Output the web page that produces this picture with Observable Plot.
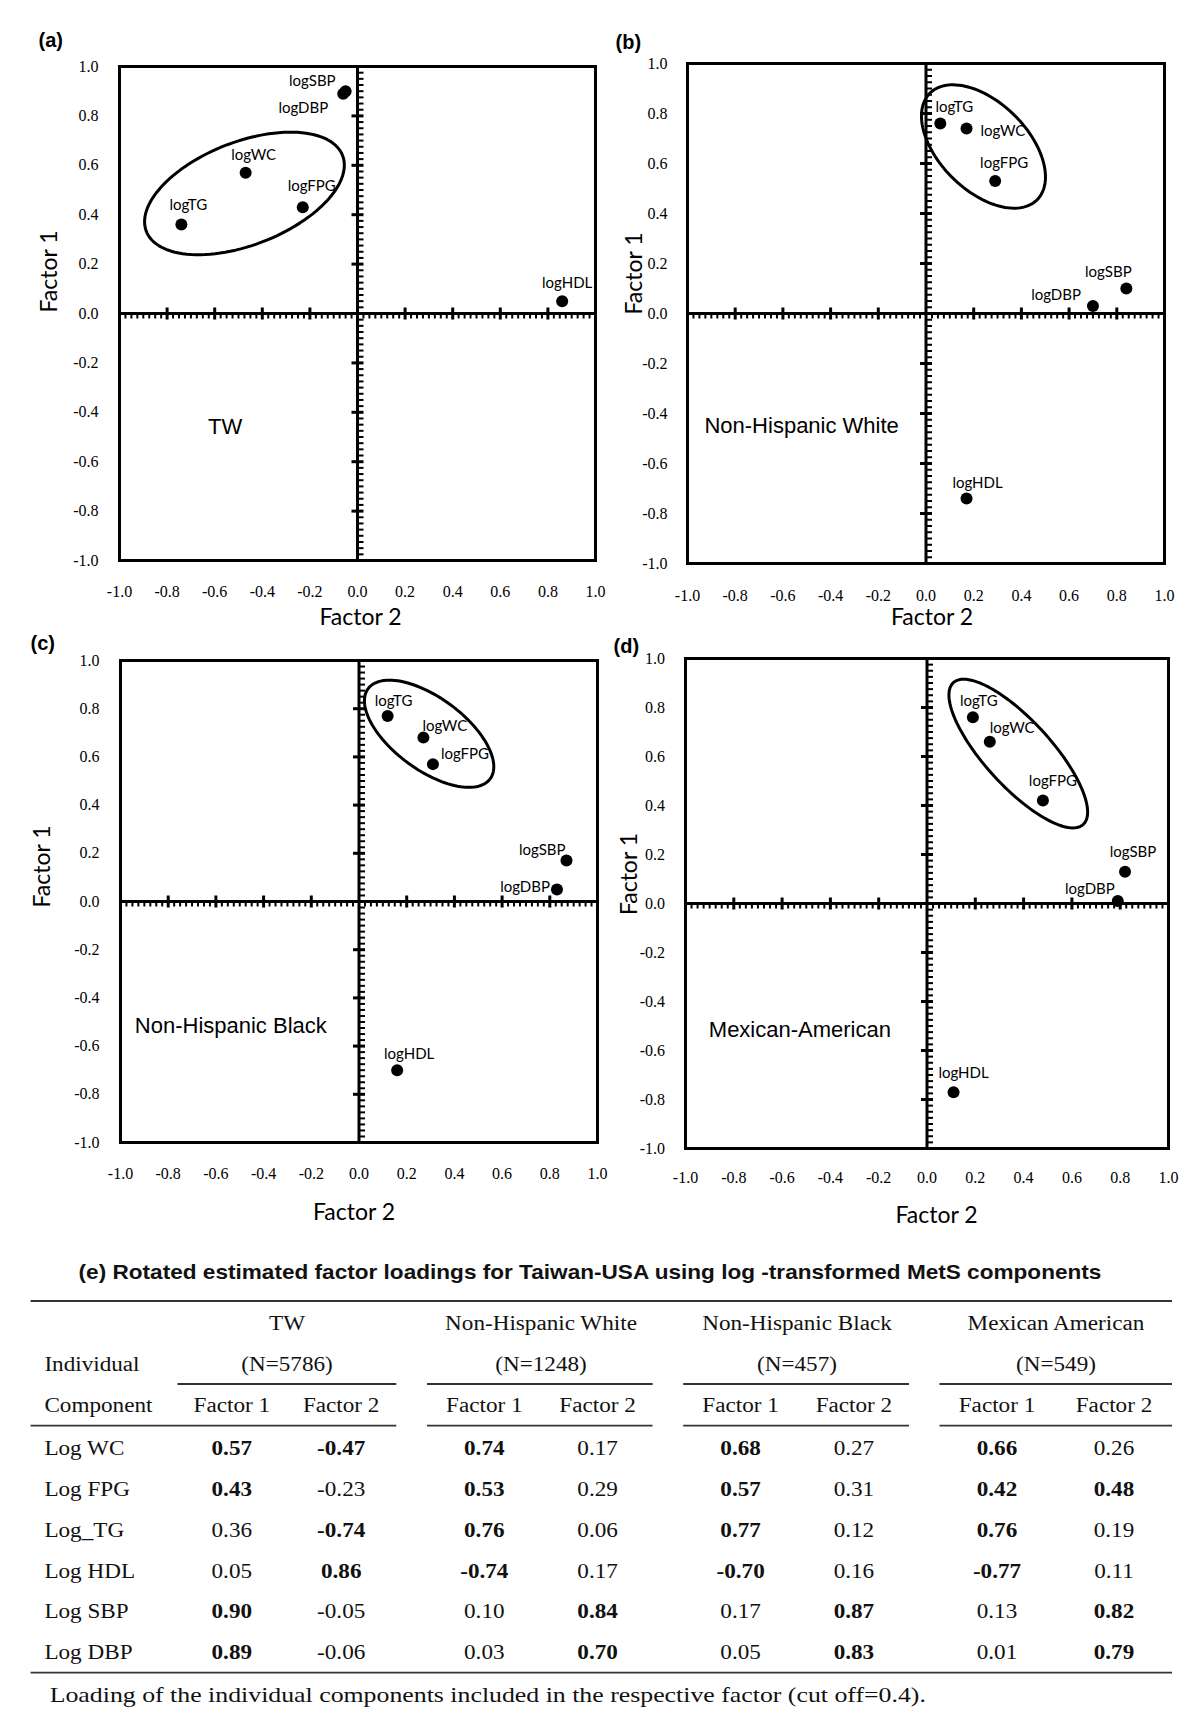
<!DOCTYPE html>
<html><head><meta charset="utf-8">
<script src="https://cdn.jsdelivr.net/npm/d3@7"></script>
<script src="https://cdn.jsdelivr.net/npm/@observablehq/plot@0.6"></script>
<style>
body{margin:0;background:#fff;}
#root{position:relative;width:1200px;height:1725px;background:#fff;overflow:hidden;}
#root svg{position:absolute;}
</style></head><body><div id="root"></div>
<script>
// ---------------- DATA ----------------
const components = ["logWC","logFPG","logTG","logHDL","logSBP","logDBP"];
const tableComponents = ["Log WC","Log FPG","Log_TG","Log HDL","Log SBP","Log DBP"];
const groups = ["TW","Non-Hispanic White","Non-Hispanic Black","Mexican American"];
const panelGroupNames = ["TW","Non-Hispanic White","Non-Hispanic Black","Mexican-American"];
const groupN = ["(N=5786)","(N=1248)","(N=457)","(N=549)"];
const panelTags = ["(a)","(b)","(c)","(d)"];
// rotated factor loadings (Factor 1, Factor 2) per group, in component order
const twF1  = [0.57, 0.43, 0.36, 0.05, 0.90, 0.89];
const twF2  = [-0.47,-0.23,-0.74, 0.86,-0.05,-0.06];
const nhwF1 = [0.74, 0.53, 0.76,-0.74, 0.10, 0.03];
const nhwF2 = [0.17, 0.29, 0.06, 0.17, 0.84, 0.70];
const nhbF1 = [0.68, 0.57, 0.77,-0.70, 0.17, 0.05];
const nhbF2 = [0.27, 0.31, 0.12, 0.16, 0.87, 0.83];
const maF1  = [0.66, 0.42, 0.76,-0.77, 0.13, 0.01];
const maF2  = [0.26, 0.48, 0.19, 0.11, 0.82, 0.79];
const axisTicks = [-1.0,-0.8,-0.6,-0.4,-0.2,0.0,0.2,0.4,0.6,0.8,1.0];
const cutoff = 0.4;
const title = "(e) Rotated estimated factor loadings for Taiwan-USA using log -transformed MetS components";
const footnote = "Loading of the individual components included in the respective factor (cut off=0.4).";
const xTitle = "Factor 2", yTitle = "Factor 1";

// ---------------- LAYOUT / STYLE ----------------
const panelLayout = [
  {left:0, top:0, width:600, height:640, ml:119, mr:5, mt:66, mb:80,
   xTickDy:31, yTickDx:-21, xlab:[3,57], ylab:[-70,-1], tag:[-81,-26],
   group:{x:-0.556, y:-0.46, anchor:"middle"},
   ellipse:{cx:-0.475, cy:0.486, rx:0.44, ry:0.21, rot:20},
   labels:{logWC:[8,-18,"middle"], logFPG:[9,-21,"middle"], logTG:[7,-19,"middle"],
           logHDL:[5,-18,"middle"], logSBP:[-10,-10,"end"], logDBP:[-15,15,"end"]}},
  {left:600, top:0, width:600, height:640, ml:87, mr:36, mt:63, mb:77,
   xTickDy:32, yTickDx:-20, xlab:[6,54], ylab:[-53,1], tag:[-72,-21],
   group:{x:-0.929, y:-0.45, anchor:"start"},
   ellipse:{cx:0.241, cy:0.668, rx:0.31, ry:0.18, rot:-42},
   labels:{logWC:[14,3,"start"], logFPG:[9,-18,"middle"], logTG:[14,-16,"middle"],
           logHDL:[11,-15,"middle"], logSBP:[-18,-16,"middle"], logDBP:[-12,-11,"end"]}},
  {left:0, top:620, width:600, height:620, ml:120, mr:3, mt:40, mb:98,
   xTickDy:31, yTickDx:-21, xlab:[-5,70], ylab:[-78,6], tag:[-90,-17],
   group:{x:-0.94, y:-0.516, anchor:"start"},
   ellipse:{cx:0.294, cy:0.696, rx:0.317, ry:0.15, rot:-36},
   labels:{logWC:[-1,-11,"start"], logFPG:[8,-10,"start"], logTG:[6,-15,"middle"],
           logHDL:[12,-16,"middle"], logSBP:[-1,-10,"end"], logDBP:[-7,-2,"end"]}},
  {left:600, top:620, width:600, height:620, ml:85, mr:32, mt:38, mb:92,
   xTickDy:29, yTickDx:-20.5, xlab:[9.5,67], ylab:[-56,11.6], tag:[-72,-12],
   group:{x:-0.9035, y:-0.515, anchor:"start"},
   ellipse:{cx:0.378, cy:0.612, rx:0.395, ry:0.136, rot:-47},
   labels:{logWC:[0,-14,"start"], logFPG:[10,-19,"middle"], logTG:[6,-16,"middle"],
           logHDL:[10,-19,"middle"], logSBP:[8,-19,"middle"], logDBP:[-3,-12,"end"]}}
];
const F1s = [twF1, nhwF1, nhbF1, maF1];
const F2s = [twF2, nhwF2, nhbF2, maF2];

const seg = (x0,y0,x1,y1) => ({draw(ctx){ctx.moveTo(x0,y0); ctx.lineTo(x1,y1);}});
const majorOnX = seg(0,-6,0,6), minorOnX = seg(0,0,0,5);
const majorOnY = seg(-6,0,6,0), minorOnY = seg(0,0,6,0);
const majorVals = axisTicks.filter(v => v !== 0 && Math.abs(v) < 1);
const minorVals = d3.range(-39, 40).map(i => i * 0.025)
  .filter(v => Math.abs(Math.round(v * 1000) % 200) !== 0);
const fmt1 = d => (Math.round(d * 10) / 10).toFixed(1);

function ellipsePoints(e) {
  const th = e.rot * Math.PI / 180;
  return d3.range(0, 361, 3).map(a => {
    const t = a * Math.PI / 180;
    return {x: e.cx + e.rx*Math.cos(t)*Math.cos(th) - e.ry*Math.sin(t)*Math.sin(th),
            y: e.cy + e.rx*Math.cos(t)*Math.sin(th) + e.ry*Math.sin(t)*Math.cos(th)};
  });
}

const root = document.getElementById("root");
const LABEL_FONT = "Lato, Carlito, 'Open Sans', sans-serif";
const SERIF = "'Liberation Serif', 'Times New Roman', serif";
const SANS = "'Liberation Sans', Arial, sans-serif";

panelLayout.forEach((L, i) => {
  const pts = components.map((c, j) => ({name: c, f1: F1s[i][j], f2: F2s[i][j]}));
  const labelMarks = pts.map(p => {
    const [dx, dy, anchor] = L.labels[p.name];
    return Plot.text([p], {x: "f2", y: "f1", text: "name", dx, dy, textAnchor: anchor,
      lineAnchor: "middle", fontFamily: LABEL_FONT, fontSize: 15, fill: "black"});
  });
  const chart = Plot.plot({
    width: L.width, height: L.height,
    marginLeft: L.ml, marginRight: L.mr, marginTop: L.mt, marginBottom: L.mb,
    x: {domain: [-1, 1], axis: null},
    y: {domain: [-1, 1], axis: null},
    style: {background: "transparent", overflow: "visible"},
    marks: [
      Plot.ruleX([0], {stroke: "black", strokeWidth: 3}),
      Plot.ruleY([0], {stroke: "black", strokeWidth: 3}),
      Plot.dot(minorVals, {x: d => d, y: 0, symbol: minorOnX, stroke: "black", strokeWidth: 2, fill: "none"}),
      Plot.dot(minorVals, {x: 0, y: d => d, symbol: minorOnY, stroke: "black", strokeWidth: 2, fill: "none"}),
      Plot.dot(majorVals, {x: d => d, y: 0, symbol: majorOnX, stroke: "black", strokeWidth: 3, fill: "none"}),
      Plot.dot(majorVals, {x: 0, y: d => d, symbol: majorOnY, stroke: "black", strokeWidth: 3, fill: "none"}),
      Plot.frame({stroke: "black", strokeWidth: 3}),
      Plot.line(ellipsePoints(L.ellipse), {x: "x", y: "y", stroke: "black", strokeWidth: 3, curve: "linear-closed"}),
      Plot.dot(pts, {x: "f2", y: "f1", r: 6, fill: "black"}),
      ...labelMarks,
      Plot.text(axisTicks, {x: d => d, frameAnchor: "bottom", dy: L.xTickDy, text: fmt1,
        lineAnchor: "middle", fontFamily: SERIF, fontSize: 16, fill: "black"}),
      Plot.text(axisTicks, {y: d => d, frameAnchor: "left", dx: L.yTickDx, text: fmt1,
        textAnchor: "end", lineAnchor: "middle", fontFamily: SERIF, fontSize: 16, fill: "black"}),
      Plot.text([xTitle], {frameAnchor: "bottom", dx: L.xlab[0], dy: L.xlab[1], text: d => d,
        lineAnchor: "middle", fontFamily: LABEL_FONT, fontSize: 23, fill: "black"}),
      Plot.text([yTitle], {frameAnchor: "left", dx: L.ylab[0], dy: L.ylab[1], text: d => d, rotate: -90,
        lineAnchor: "middle", fontFamily: LABEL_FONT, fontSize: 23, fill: "black"}),
      Plot.text([panelTags[i]], {frameAnchor: "top-left", dx: L.tag[0], dy: L.tag[1], text: d => d,
        textAnchor: "start", lineAnchor: "middle", fontFamily: SANS, fontWeight: "bold", fontSize: 20, fill: "black"}),
      Plot.text([{x: L.group.x, y: L.group.y, t: panelGroupNames[i]}], {x: "x", y: "y", text: "t",
        textAnchor: L.group.anchor, lineAnchor: "middle", fontFamily: SANS, fontSize: 22, fill: "black"})
    ]
  });
  chart.style.left = L.left + "px";
  chart.style.top = L.top + "px";
  root.appendChild(chart);
});

// ---------------- TABLE (e) ----------------
const T = {top: 1240, height: 485, titleY: 32.3, titleX: 590,
  rule1: 61, groupY: 83.3, nY: 124, underline: 144, factorY: 165, rule2: 185.7,
  rowY: [208.3, 249.3, 290, 331, 371.7, 412.7], rule3: 432.7, footY: 455,
  left: 30.6, right: 1172, labelX: 44.4, footX: 49.7,
  groupCX: [287, 541, 797, 1056],
  colCX: [[231.8, 341.2], [484.3, 597.6], [740.6, 853.9], [997, 1114]],
  segs: [[177.5, 396.3], [427, 652.6], [683.2, 909], [939.5, 1172]],
  fontSize: 20.5, sx: 1.13, footSx: 1.26};
const tbl = d3.select(root).append("svg")
  .attr("width", 1200).attr("height", T.height)
  .style("left", "0px").style("top", T.top + "px");
function txt(x, y, s, o = {}) {
  tbl.append("text")
    .attr("transform", `translate(${x},${y}) scale(${o.sx ?? T.sx},1)`)
    .attr("text-anchor", o.anchor ?? "middle")
    .attr("dominant-baseline", "central")
    .attr("font-family", o.family ?? SERIF)
    .attr("font-size", o.size ?? T.fontSize)
    .attr("font-weight", o.weight ?? "normal")
    .attr("fill", "#111")
    .text(s);
}
function hline(y, x0, x1) {
  tbl.append("line").attr("x1", x0).attr("x2", x1).attr("y1", y).attr("y2", y)
    .attr("stroke", "#333").attr("stroke-width", 1.8);
}
txt(T.titleX, T.titleY, title, {family: SANS, weight: "bold", size: 20, sx: 1.13});
hline(T.rule1, T.left, T.right);
groups.forEach((g, i) => {
  txt(T.groupCX[i], T.groupY, g);
  txt(T.groupCX[i], T.nY, groupN[i]);
  hline(T.underline, T.segs[i][0], T.segs[i][1]);
  hline(T.rule2, i === 0 ? T.left : T.segs[i][0], T.segs[i][1]);
  txt(T.colCX[i][0], T.factorY, "Factor 1");
  txt(T.colCX[i][1], T.factorY, "Factor 2");
  tableComponents.forEach((c, j) => {
    [F1s[i][j], F2s[i][j]].forEach((v, k) => {
      txt(T.colCX[i][k], T.rowY[j], v.toFixed(2), {weight: Math.abs(v) >= cutoff ? "bold" : "normal"});
    });
  });
});
txt(T.labelX, T.nY, "Individual", {anchor: "start"});
txt(T.labelX, T.factorY, "Component", {anchor: "start"});
tableComponents.forEach((c, j) => txt(T.labelX, T.rowY[j], c, {anchor: "start"}));
hline(T.rule3, T.left, T.right);
txt(T.footX, T.footY, footnote, {anchor: "start", sx: T.footSx});
</script>
</body></html>
